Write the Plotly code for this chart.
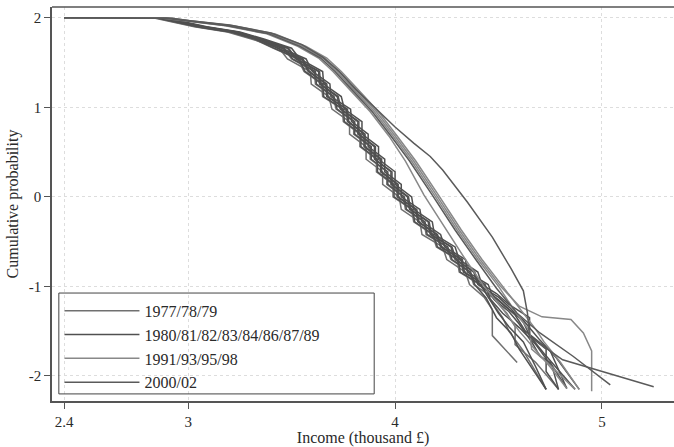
import plotly.graph_objects as go

# ---- data ----
LOW_Y = [2.00, 2.00, 1.95, 1.90, 1.84, 1.76, 1.66, 1.54, 1.40, 1.26, 1.12, 0.98, 0.84,
         0.70, 0.56, 0.42, 0.28, 0.14, 0.00, -0.14, -0.28, -0.42, -0.56, -0.70, -0.84, -0.98]

L1_X = [2.40, 2.83, 2.93, 3.03, 3.19, 3.31, 3.44, 3.48, 3.59, 3.595, 3.68, 3.695, 3.78,
        3.78, 3.86, 3.86, 3.94, 3.94, 4.02, 4.03, 4.12, 4.13, 4.23, 4.25, 4.34, 4.36]
L2_X = [2.40, 2.84, 2.94, 3.04, 3.20, 3.32, 3.41, 3.53, 3.56, 3.645, 3.65, 3.745, 3.75,
        3.83, 3.83, 3.91, 3.91, 3.99, 3.99, 4.08, 4.09, 4.18, 4.20, 4.30, 4.31, 4.41]
L3_X = [2.40, 2.85, 2.95, 3.05, 3.21, 3.33, 3.46, 3.50, 3.61, 3.615, 3.70, 3.715, 3.80,
        3.80, 3.88, 3.88, 3.96, 3.96, 4.04, 4.05, 4.14, 4.15, 4.25, 4.27, 4.36, 4.38]
L4_X = [2.40, 2.86, 2.96, 3.06, 3.22, 3.34, 3.43, 3.55, 3.58, 3.665, 3.67, 3.765, 3.77,
        3.85, 3.85, 3.93, 3.93, 4.01, 4.01, 4.10, 4.11, 4.20, 4.22, 4.32, 4.33, 4.43]
L5_X = [2.40, 2.87, 2.97, 3.07, 3.23, 3.35, 3.48, 3.52, 3.63, 3.635, 3.72, 3.735, 3.82,
        3.82, 3.90, 3.90, 3.98, 3.98, 4.06, 4.07, 4.16, 4.17, 4.27, 4.29, 4.38, 4.40]
L6_X = [2.40, 2.88, 2.98, 3.08, 3.24, 3.36, 3.45, 3.57, 3.60, 3.685, 3.69, 3.785, 3.79,
        3.87, 3.87, 3.95, 3.95, 4.03, 4.03, 4.12, 4.13, 4.22, 4.24, 4.34, 4.35, 4.45]
L7_X = [2.40, 2.89, 2.99, 3.09, 3.25, 3.37, 3.50, 3.54, 3.65, 3.655, 3.74, 3.755, 3.84,
        3.84, 3.92, 3.92, 4.00, 4.00, 4.08, 4.09, 4.18, 4.19, 4.29, 4.31, 4.40, 4.42]
L8_X = [2.40, 2.845, 2.945, 3.045, 3.205, 3.325, 3.415, 3.535, 3.565, 3.65, 3.655, 3.75,
        3.755, 3.835, 3.835, 3.915, 3.915, 3.995, 3.995, 4.085, 4.095, 4.185, 4.205, 4.305,
        4.315, 4.415]
L9_X = [2.40, 2.875, 2.975, 3.075, 3.235, 3.355, 3.485, 3.525, 3.635, 3.64, 3.725, 3.74,
        3.825, 3.825, 3.905, 3.905, 3.985, 3.985, 4.065, 4.075, 4.165, 4.175, 4.275, 4.295,
        4.385, 4.405]
L10_X = [2.40, 2.865, 2.965, 3.065, 3.225, 3.345, 3.435, 3.555, 3.585, 3.67, 3.675, 3.77,
         3.775, 3.855, 3.855, 3.935, 3.935, 4.015, 4.015, 4.105, 4.115, 4.205, 4.225, 4.325,
         4.335, 4.435]
L11_X = [2.40, 2.855, 2.955, 3.055, 3.215, 3.335, 3.465, 3.505, 3.615, 3.62, 3.705, 3.72,
         3.805, 3.805, 3.885, 3.885, 3.965, 3.965, 4.045, 4.055, 4.145, 4.155, 4.255, 4.275,
         4.365, 4.385]

L1_TX = [4.43, 4.47, 4.47, 4.59];              L1_TY = [-1.12, -1.26, -1.55, -1.85]
L2_TX = [4.46, 4.52, 4.55, 4.62, 4.73];        L2_TY = [-1.15, -1.35, -1.50, -1.72, -2.15]
L3_TX = [4.47, 4.54, 4.58, 4.58, 4.68, 4.79];  L3_TY = [-1.12, -1.30, -1.45, -1.65, -1.85, -2.15]
L4_TX = [4.48, 4.55, 4.60, 4.66, 4.70, 4.75, 4.83]
L4_TY = [-1.15, -1.28, -1.42, -1.62, -1.78, -1.85, -2.14]
L5_TX = [4.50, 4.56, 4.62, 4.65, 4.72, 4.87];  L5_TY = [-1.12, -1.25, -1.40, -1.55, -1.75, -2.15]
L6_TX = [4.47, 4.53, 4.62, 4.70, 4.78, 4.89];  L6_TY = [-1.10, -1.22, -1.38, -1.60, -1.80, -2.15]
L7_TX = [4.49, 4.55, 4.65, 4.65, 4.73, 4.73, 4.79]
L7_TY = [-1.08, -1.20, -1.35, -1.55, -1.70, -1.95, -2.15]
L8_TX = [4.45, 4.50, 4.55, 4.62, 4.68, 4.73];  L8_TY = [-1.12, -1.30, -1.45, -1.62, -1.90, -2.15]
L9_TX = [4.50, 4.58, 4.63, 4.75, 4.83];        L9_TY = [-1.15, -1.32, -1.50, -1.72, -2.14]
L10_TX = [4.46, 4.52, 4.60, 4.68, 4.76, 4.79]; L10_TY = [-1.14, -1.30, -1.46, -1.65, -1.90, -2.15]
L11_TX = [4.44, 4.49, 4.56, 4.60, 4.73];       L11_TY = [-1.13, -1.35, -1.52, -1.70, -2.15]

UP_Y = [2.00, 1.995, 1.965, 1.91, 1.82, 1.68, 1.55, 1.40, 1.20, 0.95, 0.68, 0.40, 0.02, -0.37, -0.70]
U1_X = [2.40, 2.88, 2.98, 3.18, 3.38, 3.53, 3.63, 3.70, 3.78, 3.88, 3.97, 4.05, 4.14, 4.25, 4.34]
U2_X = [2.40, 2.90, 3.00, 3.20, 3.40, 3.55, 3.65, 3.72, 3.80, 3.90, 3.99, 4.08, 4.19, 4.30, 4.40]
U3_X = [2.40, 2.92, 3.02, 3.22, 3.42, 3.57, 3.67, 3.74, 3.82, 3.92, 4.01, 4.10, 4.21, 4.32, 4.42]
U4_X = [2.40, 2.91, 3.01, 3.21, 3.41, 3.56, 3.66, 3.73, 3.81, 3.91, 4.00, 4.09, 4.20, 4.31, 4.41]
U5_X = [2.40, 2.89, 2.99, 3.19, 3.39, 3.54, 3.64, 3.71, 3.79, 3.89, 3.98, 4.07, 4.18, 4.29, 4.39]
U1_TX = [4.43, 4.52, 4.60, 4.68, 4.75, 4.83];  U1_TY = [-1.00, -1.25, -1.50, -1.72, -1.90, -2.14]
U2_TX = [4.50, 4.58, 4.65, 4.66, 4.75, 4.87];  U2_TY = [-1.00, -1.28, -1.50, -1.70, -1.88, -2.15]
U3_TX = [4.52, 4.60, 4.68, 4.72, 4.80, 4.89];  U3_TY = [-1.00, -1.25, -1.48, -1.62, -1.85, -2.15]
U4_TX = [4.51, 4.60, 4.71, 4.85, 4.91, 4.95, 4.95]
U4_TY = [-1.00, -1.22, -1.34, -1.37, -1.52, -1.72, -2.17]
U5_TX = [4.49, 4.59, 4.70, 4.86, 5.04];        U5_TY = [-1.02, -1.30, -1.52, -1.78, -2.10]
U6_X = [2.40, 2.92, 3.00, 3.20, 3.40, 3.55, 3.65, 3.73, 3.81, 3.90, 4.00, 4.09, 4.17, 4.23,
        4.35, 4.47, 4.56, 4.62, 4.64, 4.65, 4.81, 5.25]
U6_Y = [2.00, 1.995, 1.97, 1.92, 1.83, 1.70, 1.56, 1.40, 1.20, 1.00, 0.78, 0.60, 0.45, 0.30,
        -0.06, -0.45, -0.80, -1.05, -1.30, -1.56, -1.82, -2.12]

GROUPS = ["1977/78/79", "1980/81/82/83/84/86/87/89", "1991/93/95/98", "2000/02"]
GROUP_COLORS = ["#707070", "#505050", "#888888", "#5a5a5a"]

X_TICKS = [2.4, 3, 4, 5]
X_TICKTEXT = ["2.4", "3", "4", "5"]
Y_TICKS = [2, 1, 0, -1, -2]
Y_TICKTEXT = ["2", "1", "0", "-1", "-2"]

curves = [
    (0, L1_X + L1_TX, LOW_Y + L1_TY),
    (0, L2_X + L2_TX, LOW_Y + L2_TY),
    (0, L3_X + L3_TX, LOW_Y + L3_TY),
    (1, L4_X + L4_TX, LOW_Y + L4_TY),
    (1, L5_X + L5_TX, LOW_Y + L5_TY),
    (1, L6_X + L6_TX, LOW_Y + L6_TY),
    (1, L7_X + L7_TX, LOW_Y + L7_TY),
    (1, L8_X + L8_TX, LOW_Y + L8_TY),
    (1, L9_X + L9_TX, LOW_Y + L9_TY),
    (1, L10_X + L10_TX, LOW_Y + L10_TY),
    (1, L11_X + L11_TX, LOW_Y + L11_TY),
    (2, U1_X + U1_TX, UP_Y + U1_TY),
    (2, U2_X + U2_TX, UP_Y + U2_TY),
    (2, U3_X + U3_TX, UP_Y + U3_TY),
    (2, U4_X + U4_TX, UP_Y + U4_TY),
    (3, U5_X + U5_TX, UP_Y + U5_TY),
    (3, U6_X, U6_Y),
]

FONT = "Liberation Serif"
fig = go.Figure()
shown = set()
for g, xs, ys in curves:
    fig.add_trace(go.Scatter(
        x=xs, y=ys, mode="lines", name=GROUPS[g], legendgroup=GROUPS[g],
        showlegend=g not in shown,
        line=dict(color=GROUP_COLORS[g], width=1.5),
    ))
    shown.add(g)

fig.update_layout(
    width=674, height=447,
    margin=dict(l=52, r=0, t=7, b=46),
    paper_bgcolor="white", plot_bgcolor="white",
    font=dict(family=FONT, size=16, color="#2a2a2a"),
    showlegend=True,
    legend=dict(
        x=0.012, y=0.272, xanchor="left", yanchor="top",
        bgcolor="rgba(0,0,0,0)", borderwidth=0,
        font=dict(family=FONT, size=16, color="#2a2a2a"),
        itemwidth=75, tracegroupgap=0,
    ),
    xaxis=dict(
        range=[2.342, 5.348], tickvals=X_TICKS, ticktext=X_TICKTEXT,
        showgrid=True, gridcolor="#dddddd", griddash="dot", gridwidth=1,
        zeroline=False, showline=True, linecolor="#555555", linewidth=1.5,
        ticks="outside", ticklen=6, tickcolor="#555555",
        tickfont=dict(family=FONT, size=15, color="#2a2a2a"),
        title=dict(text="Income (thousand £)", font=dict(family=FONT, size=16), standoff=4),
    ),
    yaxis=dict(
        range=[-2.28, 2.12], tickvals=Y_TICKS, ticktext=Y_TICKTEXT,
        showgrid=True, gridcolor="#dddddd", griddash="dot", gridwidth=1,
        zeroline=False, showline=True, linecolor="#555555", linewidth=1.5,
        ticks="outside", ticklen=6, tickcolor="#555555",
        tickfont=dict(family=FONT, size=15, color="#2a2a2a"),
        title=dict(text="Cumulative probability", font=dict(family=FONT, size=16), standoff=6),
    ),
    shapes=[
        dict(type="line", xref="paper", yref="paper", x0=0, x1=1, y0=1, y1=1,
             line=dict(color="#555555", width=1.5)),
        dict(type="rect", xref="paper", yref="paper", x0=0.011, x1=0.518, y0=0.018, y1=0.274,
             line=dict(color="#444444", width=1), fillcolor="rgba(0,0,0,0)", layer="above"),
    ],
)

fig.write_html("out.html")
